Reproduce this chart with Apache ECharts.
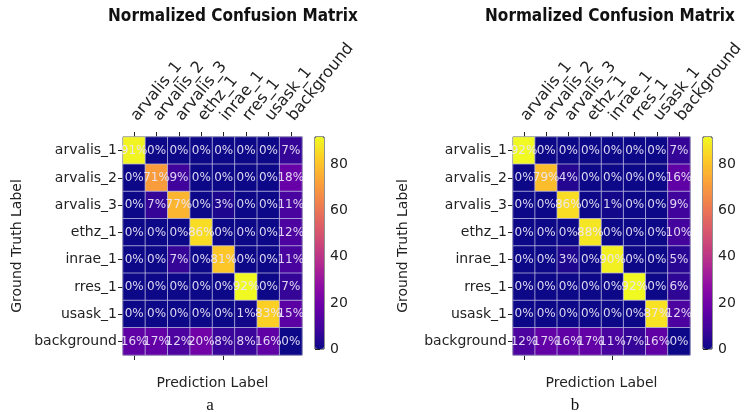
<!DOCTYPE html>
<html><head><meta charset="utf-8">
<script src="https://cdn.jsdelivr.net/npm/echarts@6/dist/echarts.min.js"></script>
<style>html,body{margin:0;padding:0;background:#fff}#c{width:749px;height:412px}</style>
</head><body><div id="c"></div>
<script>
const categories = ['arvalis_1','arvalis_2','arvalis_3','ethz_1','inrae_1','rres_1','usask_1','background'];
const matrixA = [
  [91,0,0,0,0,0,0,7],
  [0,71,9,0,0,0,0,18],
  [0,7,77,0,3,0,0,11],
  [0,0,0,86,0,0,0,12],
  [0,0,7,0,81,0,0,11],
  [0,0,0,0,0,92,0,7],
  [0,0,0,0,0,1,83,15],
  [16,17,12,20,8,8,16,0]
];
const matrixB = [
  [92,0,0,0,0,0,0,7],
  [0,79,4,0,0,0,0,16],
  [0,0,86,0,1,0,0,9],
  [0,0,0,88,0,0,0,10],
  [0,0,3,0,90,0,0,5],
  [0,0,0,0,0,92,0,6],
  [0,0,0,0,0,0,87,12],
  [12,17,16,17,11,7,16,0]
];
const colorbarMin = 0, colorbarMax = 92;
const colorbarTicks = [0,20,40,60,80];
const panelLetters = ['a','b'];
const titleText = 'Normalized Confusion Matrix';

const plasma = ['#0d0887','#41049d','#6a00a8','#8f0da4','#b12a90','#cc4778','#e16462','#f2844b','#fca636','#fcce25','#f0f921'];
const FONT = 'DejaVu Sans';
function toData(m){const d=[];m.forEach((row,r)=>row.forEach((v,c)=>d.push([c,r,v])));return d;}

const panels = [
  {grid:{left:123,top:137,width:179,height:218}, cb:{left:315,top:137,width:9,height:212}, titleX:228, letterX:205, nameGap:99, data:matrixA},
  {grid:{left:513,top:137,width:177,height:218}, cb:{left:703,top:137,width:9,height:212}, titleX:605, letterX:570, nameGap:103, data:matrixB}
];

const grid=[],xAxis=[],yAxis=[],series=[],visualMap=[],title=[];
panels.forEach((p,i)=>{
  const gi = grid.length;
  grid.push(Object.assign({show:true,borderColor:'#111',borderWidth:1,backgroundColor:'transparent'},p.grid));
  grid.push(Object.assign({show:true,borderColor:'#222',borderWidth:1,backgroundColor:'transparent'},p.cb));
  const xTop = xAxis.length;
  xAxis.push({type:'category',gridIndex:gi,position:'top',data:categories,
    axisLine:{show:false},axisTick:{show:true,alignWithLabel:true,length:5,lineStyle:{color:'#222'}},
    axisLabel:{rotate:-51,fontFamily:FONT,fontSize:16,color:'#222',margin:18,interval:0},splitLine:{show:false}});
  xAxis.push({type:'category',gridIndex:gi,position:'bottom',data:categories,
    axisLine:{show:false},axisTick:{show:true,alignWithLabel:true,length:5,lineStyle:{color:'#222'}},
    axisLabel:{show:false},name:'Prediction Label',nameLocation:'middle',nameGap:21,
    nameTextStyle:{fontFamily:FONT,fontSize:14,color:'#222'}});
  xAxis.push({type:'value',gridIndex:gi+1,show:false,min:0,max:1});
  const yL = yAxis.length;
  yAxis.push({type:'category',gridIndex:gi,inverse:true,data:categories,
    axisLine:{show:false},axisTick:{show:true,alignWithLabel:true,length:5,lineStyle:{color:'#222'}},
    axisLabel:{fontFamily:FONT,fontSize:14,color:'#222',margin:6,interval:0},
    name:'Ground Truth Label',nameLocation:'middle',nameGap:p.nameGap,nameRotate:90,
    nameTextStyle:{fontFamily:FONT,fontSize:14,color:'#222'}});
  yAxis.push({type:'value',gridIndex:gi+1,position:'right',min:colorbarMin,max:colorbarMax,
    axisLine:{show:false},axisTick:{show:true,length:5,lineStyle:{color:'#222'},customValues:colorbarTicks},splitLine:{show:false},
    axisLabel:{fontFamily:FONT,fontSize:14,color:'#222',margin:6,customValues:colorbarTicks}});
  series.push({type:'heatmap',xAxisIndex:xTop,yAxisIndex:yL,data:toData(p.data),
    itemStyle:{borderColor:'rgba(190,190,225,0.75)',borderWidth:1},
    label:{show:true,formatter:q=>q.value[2]+'%',color:'rgba(235,230,250,0.92)',fontFamily:FONT,fontSize:12},
    emphasis:{disabled:true}});
  series.push({type:'line',xAxisIndex:xTop+2,yAxisIndex:yL+1,data:[],silent:true});
  visualMap.push({type:'continuous',seriesIndex:series.length-2,min:colorbarMin,max:colorbarMax,
    orient:'vertical',left:p.cb.left,top:p.cb.top,itemWidth:p.cb.width,itemHeight:p.cb.height,
    padding:0,calculable:false,text:null,showLabel:false,inRange:{color:plasma},hoverLink:false});
  title.push({text:titleText,left:p.titleX,top:3,textAlign:'center',
    textStyle:{fontFamily:'DejaVu Sans Condensed',fontWeight:'bold',fontSize:17,color:'#111'}});
  title.push({text:panelLetters[i],left:p.letterX,top:392,textAlign:'center',
    textStyle:{fontFamily:'Liberation Serif',fontWeight:'normal',fontSize:17,color:'#111'}});
});

const chart = echarts.init(document.getElementById('c'),null,{renderer:'canvas'});
chart.setOption({animation:false,backgroundColor:'#fff',title,grid,xAxis,yAxis,series,visualMap});
</script></body></html>
